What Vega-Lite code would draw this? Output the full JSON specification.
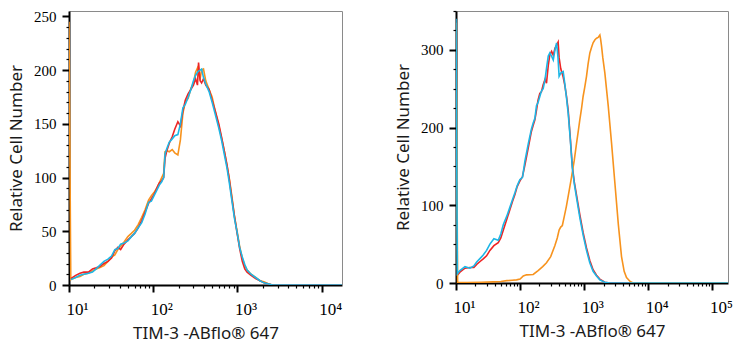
{
  "$schema": "https://vega.github.io/schema/vega-lite/v6.json",
  "padding": {"left": 7, "top": 4, "right": 5, "bottom": 5},
  "spacing": 52,
  "config": {
    "view": {"stroke": null},
    "axis": {
      "grid": false, "domainColor": "#000", "domainWidth": 2, "tickColor": "#000", "zindex": 1,
      "labelFont": "Liberation Serif", "labelFontSize": 15, "labelColor": "#000",
      "titleFont": "Noto Sans", "titleFontSize": 17, "titleFontWeight": "normal", "titleColor": "#1a1a1a",
      "labelOverlap": false, "labelFlush": false
    }
  },
  "datasets": {
    "L": [
      {"s":"C","x":10,"y":245},
      {"s":"A","x":10.5,"y":6},{"s":"A","x":12,"y":9},{"s":"A","x":13.5,"y":11},{"s":"A","x":15,"y":12},{"s":"A","x":17,"y":12},{"s":"A","x":19,"y":15},{"s":"A","x":21,"y":16},{"s":"A","x":23,"y":17},{"s":"A","x":26,"y":20},{"s":"A","x":29,"y":22},
      {"s":"A","x":32,"y":25},{"s":"A","x":35,"y":32},{"s":"A","x":38,"y":35},{"s":"A","x":41,"y":33},{"s":"A","x":45,"y":38},{"s":"A","x":50,"y":42},{"s":"A","x":55,"y":45},{"s":"A","x":60,"y":48},{"s":"A","x":66,"y":53},{"s":"A","x":73,"y":60},
      {"s":"A","x":80,"y":68},{"s":"A","x":88,"y":76},{"s":"A","x":95,"y":80},{"s":"A","x":102,"y":84},{"s":"A","x":110,"y":90},{"s":"A","x":118,"y":95},{"s":"A","x":126,"y":97},{"s":"A","x":133,"y":100},{"s":"A","x":138,"y":118},{"s":"A","x":145,"y":125},
      {"s":"A","x":155,"y":132},{"s":"A","x":168,"y":138},{"s":"A","x":180,"y":145},{"s":"A","x":196,"y":152},{"s":"A","x":210,"y":148},{"s":"A","x":225,"y":162},{"s":"A","x":240,"y":172},{"s":"A","x":260,"y":178},{"s":"A","x":280,"y":182},{"s":"A","x":300,"y":186},
      {"s":"A","x":318,"y":192},{"s":"A","x":335,"y":186},{"s":"A","x":345,"y":207},{"s":"A","x":360,"y":190},{"s":"A","x":375,"y":188},{"s":"A","x":395,"y":192},{"s":"A","x":420,"y":186},{"s":"A","x":460,"y":182},{"s":"A","x":500,"y":172},{"s":"A","x":540,"y":163},
      {"s":"A","x":600,"y":150},{"s":"A","x":650,"y":137},{"s":"A","x":700,"y":124},{"s":"A","x":750,"y":112},{"s":"A","x":800,"y":98},{"s":"A","x":860,"y":80},{"s":"A","x":920,"y":64},{"s":"A","x":990,"y":48},{"s":"A","x":1060,"y":34},{"s":"A","x":1140,"y":22},
      {"s":"A","x":1220,"y":15},{"s":"A","x":1300,"y":12},{"s":"A","x":1450,"y":9},{"s":"A","x":1640,"y":6},{"s":"A","x":1850,"y":4},{"s":"A","x":2060,"y":2},{"s":"A","x":2350,"y":1},{"s":"A","x":2600,"y":0},{"s":"A","x":17400,"y":0},
      {"s":"B","x":10.5,"y":5},{"s":"B","x":12,"y":7},{"s":"B","x":13.5,"y":9},{"s":"B","x":15,"y":10},{"s":"B","x":17,"y":11},{"s":"B","x":19,"y":12},{"s":"B","x":21,"y":15},{"s":"B","x":23,"y":18},{"s":"B","x":26,"y":22},{"s":"B","x":29,"y":24},
      {"s":"B","x":32,"y":27},{"s":"B","x":35,"y":33},{"s":"B","x":38,"y":34},{"s":"B","x":41,"y":38},{"s":"B","x":45,"y":39},{"s":"B","x":50,"y":41},{"s":"B","x":55,"y":45},{"s":"B","x":60,"y":48},{"s":"B","x":66,"y":53},{"s":"B","x":73,"y":58},
      {"s":"B","x":80,"y":66},{"s":"B","x":88,"y":77},{"s":"B","x":95,"y":78},{"s":"B","x":102,"y":83},{"s":"B","x":110,"y":88},{"s":"B","x":118,"y":93},{"s":"B","x":126,"y":96},{"s":"B","x":133,"y":100},{"s":"B","x":138,"y":122},{"s":"B","x":145,"y":127},
      {"s":"B","x":155,"y":133},{"s":"B","x":168,"y":136},{"s":"B","x":180,"y":139},{"s":"B","x":196,"y":140},{"s":"B","x":210,"y":150},{"s":"B","x":225,"y":165},{"s":"B","x":240,"y":168},{"s":"B","x":260,"y":175},{"s":"B","x":280,"y":182},{"s":"B","x":300,"y":190},
      {"s":"B","x":318,"y":195},{"s":"B","x":335,"y":198},{"s":"B","x":345,"y":199},{"s":"B","x":360,"y":200},{"s":"B","x":375,"y":201},{"s":"B","x":395,"y":193},{"s":"B","x":420,"y":187},{"s":"B","x":460,"y":180},{"s":"B","x":500,"y":170},{"s":"B","x":540,"y":160},
      {"s":"B","x":600,"y":146},{"s":"B","x":650,"y":134},{"s":"B","x":700,"y":121},{"s":"B","x":750,"y":109},{"s":"B","x":800,"y":95},{"s":"B","x":860,"y":78},{"s":"B","x":920,"y":62},{"s":"B","x":990,"y":49},{"s":"B","x":1060,"y":35},{"s":"B","x":1140,"y":26},
      {"s":"B","x":1220,"y":19},{"s":"B","x":1300,"y":14},{"s":"B","x":1450,"y":10},{"s":"B","x":1640,"y":7},{"s":"B","x":1850,"y":4},{"s":"B","x":2060,"y":2},{"s":"B","x":2350,"y":1},{"s":"B","x":2600,"y":0},{"s":"B","x":17400,"y":0},
      {"s":"C","x":10.5,"y":5},{"s":"C","x":12,"y":7},{"s":"C","x":13.5,"y":8},{"s":"C","x":15,"y":10},{"s":"C","x":17,"y":11},{"s":"C","x":19,"y":13},{"s":"C","x":21,"y":15},{"s":"C","x":23,"y":16},{"s":"C","x":26,"y":18},{"s":"C","x":29,"y":22},
      {"s":"C","x":32,"y":26},{"s":"C","x":35,"y":28},{"s":"C","x":38,"y":33},{"s":"C","x":41,"y":36},{"s":"C","x":45,"y":40},{"s":"C","x":50,"y":45},{"s":"C","x":55,"y":48},{"s":"C","x":60,"y":51},{"s":"C","x":66,"y":56},{"s":"C","x":73,"y":63},
      {"s":"C","x":80,"y":70},{"s":"C","x":88,"y":79},{"s":"C","x":95,"y":83},{"s":"C","x":102,"y":86},{"s":"C","x":110,"y":90},{"s":"C","x":118,"y":95},{"s":"C","x":126,"y":100},{"s":"C","x":133,"y":104},{"s":"C","x":138,"y":124},{"s":"C","x":145,"y":125},
      {"s":"C","x":155,"y":124},{"s":"C","x":168,"y":126},{"s":"C","x":180,"y":123},{"s":"C","x":196,"y":121},{"s":"C","x":210,"y":135},{"s":"C","x":225,"y":160},{"s":"C","x":240,"y":170},{"s":"C","x":260,"y":174},{"s":"C","x":280,"y":183},{"s":"C","x":300,"y":188},
      {"s":"C","x":318,"y":198},{"s":"C","x":335,"y":202},{"s":"C","x":345,"y":196},{"s":"C","x":360,"y":192},{"s":"C","x":375,"y":200},{"s":"C","x":395,"y":201},{"s":"C","x":420,"y":190},{"s":"C","x":460,"y":182},{"s":"C","x":500,"y":175},{"s":"C","x":540,"y":163},
      {"s":"C","x":600,"y":148},{"s":"C","x":650,"y":136},{"s":"C","x":700,"y":124},{"s":"C","x":750,"y":111},{"s":"C","x":800,"y":99},{"s":"C","x":860,"y":82},{"s":"C","x":920,"y":64},{"s":"C","x":990,"y":50},{"s":"C","x":1060,"y":36},{"s":"C","x":1140,"y":25},
      {"s":"C","x":1220,"y":18},{"s":"C","x":1300,"y":14},{"s":"C","x":1450,"y":10},{"s":"C","x":1640,"y":7},{"s":"C","x":1850,"y":4},{"s":"C","x":2060,"y":3},{"s":"C","x":2350,"y":1},{"s":"C","x":2600,"y":0},{"s":"C","x":17400,"y":0}
    ],
    "R": [
      {"s":"A","x":10.5,"y":10},{"s":"A","x":11.5,"y":14},{"s":"A","x":13.8,"y":19},{"s":"A","x":16.5,"y":20},{"s":"A","x":19,"y":20},{"s":"A","x":21,"y":24},{"s":"A","x":24,"y":28},{"s":"A","x":26.6,"y":31},{"s":"A","x":30,"y":35},{"s":"A","x":33.8,"y":42},
      {"s":"A","x":39,"y":48},{"s":"A","x":45.6,"y":52},{"s":"A","x":50,"y":58},{"s":"A","x":54.6,"y":68},{"s":"A","x":62,"y":82},{"s":"A","x":69,"y":94},{"s":"A","x":76,"y":105},{"s":"A","x":83,"y":114},{"s":"A","x":90,"y":124},{"s":"A","x":99,"y":131},
      {"s":"A","x":109,"y":137},{"s":"A","x":119,"y":152},{"s":"A","x":134,"y":174},{"s":"A","x":150,"y":195},{"s":"A","x":160,"y":203},{"s":"A","x":170,"y":210},{"s":"A","x":180,"y":222},{"s":"A","x":190,"y":235},{"s":"A","x":203,"y":244},{"s":"A","x":215,"y":246},
      {"s":"A","x":229,"y":255},{"s":"A","x":245,"y":262},{"s":"A","x":258,"y":257},{"s":"A","x":275,"y":280},{"s":"A","x":291,"y":294},{"s":"A","x":310,"y":298},{"s":"A","x":329,"y":293},{"s":"A","x":350,"y":302},{"s":"A","x":371,"y":306},{"s":"A","x":392,"y":310},
      {"s":"A","x":406,"y":290},{"s":"A","x":430,"y":276},{"s":"A","x":470,"y":265},{"s":"A","x":497,"y":255},{"s":"A","x":530,"y":240},{"s":"A","x":563,"y":222},{"s":"A","x":600,"y":192},{"s":"A","x":653,"y":150},{"s":"A","x":700,"y":130},{"s":"A","x":759,"y":113},
      {"s":"A","x":854,"y":88},{"s":"A","x":961,"y":65},{"s":"A","x":1086,"y":45},{"s":"A","x":1222,"y":29},{"s":"A","x":1376,"y":17},{"s":"A","x":1555,"y":10},{"s":"A","x":1750,"y":5},{"s":"A","x":2094,"y":1},{"s":"A","x":2506,"y":0},{"s":"A","x":175000,"y":0},
      {"s":"C","x":10,"y":335},{"s":"C","x":10.6,"y":1},{"s":"C","x":15,"y":0.5},{"s":"C","x":25,"y":1},{"s":"C","x":38,"y":1.5},{"s":"C","x":50,"y":2},{"s":"C","x":62,"y":3},{"s":"C","x":75,"y":3.5},{"s":"C","x":88,"y":4},
      {"s":"C","x":100,"y":5},{"s":"C","x":112,"y":9},{"s":"C","x":126,"y":10.5},{"s":"C","x":160,"y":11},{"s":"C","x":191,"y":16},{"s":"C","x":225,"y":21},{"s":"C","x":258,"y":26},{"s":"C","x":300,"y":34},{"s":"C","x":348,"y":48},{"s":"C","x":380,"y":58},
      {"s":"C","x":406,"y":68},{"s":"C","x":430,"y":72},{"s":"C","x":456,"y":74},{"s":"C","x":490,"y":86},{"s":"C","x":528,"y":99},{"s":"C","x":580,"y":118},{"s":"C","x":633,"y":136},{"s":"C","x":700,"y":158},{"s":"C","x":760,"y":180},{"s":"C","x":810,"y":196},
      {"s":"C","x":854,"y":210},{"s":"C","x":910,"y":225},{"s":"C","x":961,"y":240},{"s":"C","x":1020,"y":252},{"s":"C","x":1086,"y":266},{"s":"C","x":1150,"y":282},{"s":"C","x":1225,"y":296},{"s":"C","x":1300,"y":303},{"s":"C","x":1376,"y":309},{"s":"C","x":1470,"y":313},
      {"s":"C","x":1560,"y":315},{"s":"C","x":1650,"y":316},{"s":"C","x":1754,"y":319},{"s":"C","x":1800,"y":314},{"s":"C","x":1862,"y":305},{"s":"C","x":1950,"y":290},{"s":"C","x":2100,"y":270},{"s":"C","x":2370,"y":228},{"s":"C","x":2670,"y":180},{"s":"C","x":3000,"y":130},
      {"s":"C","x":3400,"y":76},{"s":"C","x":3820,"y":34},{"s":"C","x":4200,"y":15},{"s":"C","x":4570,"y":7},{"s":"C","x":5200,"y":2},{"s":"C","x":5800,"y":0},{"s":"C","x":175000,"y":0},
      {"s":"B","x":10,"y":340},{"s":"B","x":10.5,"y":12},{"s":"B","x":11.5,"y":16},{"s":"B","x":13.8,"y":21},{"s":"B","x":16.5,"y":19},{"s":"B","x":19,"y":22},{"s":"B","x":21,"y":27},{"s":"B","x":24,"y":32},{"s":"B","x":26.6,"y":36},
      {"s":"B","x":30,"y":42},{"s":"B","x":33.8,"y":50},{"s":"B","x":39,"y":57},{"s":"B","x":45.6,"y":55},{"s":"B","x":50,"y":63},{"s":"B","x":54.6,"y":75},{"s":"B","x":62,"y":86},{"s":"B","x":69,"y":97},{"s":"B","x":76,"y":107},{"s":"B","x":83,"y":116},
      {"s":"B","x":90,"y":125},{"s":"B","x":99,"y":133},{"s":"B","x":109,"y":136},{"s":"B","x":119,"y":157},{"s":"B","x":134,"y":179},{"s":"B","x":150,"y":198},{"s":"B","x":160,"y":206},{"s":"B","x":170,"y":212},{"s":"B","x":180,"y":228},{"s":"B","x":190,"y":232},
      {"s":"B","x":203,"y":240},{"s":"B","x":215,"y":247},{"s":"B","x":229,"y":250},{"s":"B","x":245,"y":262},{"s":"B","x":260,"y":278},{"s":"B","x":275,"y":292},{"s":"B","x":291,"y":296},{"s":"B","x":310,"y":292},{"s":"B","x":329,"y":287},{"s":"B","x":350,"y":300},
      {"s":"B","x":371,"y":309},{"s":"B","x":390,"y":290},{"s":"B","x":406,"y":266},{"s":"B","x":430,"y":270},{"s":"B","x":470,"y":272},{"s":"B","x":497,"y":257},{"s":"B","x":530,"y":238},{"s":"B","x":563,"y":218},{"s":"B","x":600,"y":190},{"s":"B","x":653,"y":148},
      {"s":"B","x":700,"y":128},{"s":"B","x":759,"y":110},{"s":"B","x":854,"y":84},{"s":"B","x":961,"y":62},{"s":"B","x":1086,"y":42},{"s":"B","x":1222,"y":26},{"s":"B","x":1376,"y":15},{"s":"B","x":1555,"y":9},{"s":"B","x":1750,"y":4},{"s":"B","x":2094,"y":1},
      {"s":"B","x":2506,"y":0},{"s":"B","x":175000,"y":0}
    ]
  },
  "hconcat": [
    {
      "width": 273, "height": 274,
      "data": {"name": "L"},
      "resolve": {"axis": {"x": "independent", "y": "independent"}},
      "layer": [
        {
          "mark": {"type": "line", "strokeWidth": 1.6, "clip": true},
          "encoding": {
            "x": {"field": "x", "type": "quantitative",
              "scale": {"type": "log", "domain": [10, 17400], "nice": false},
              "axis": {"title": "TIM-3 -ABflo® 647", "orient": "bottom",
                "values": [10,20,30,40,50,60,70,80,90,100,200,300,400,500,600,700,800,900,1000,2000,3000,4000,5000,6000,7000,8000,9000,10000],
                "labelExpr": "abs(log(datum.value)/LN10 - round(log(datum.value)/LN10)) < 0.001 ? '10' + ['⁰','¹','²','³','⁴','⁵'][round(log(datum.value)/LN10)] : ''",
                "tickSize": {"condition": {"test": "abs(log(datum.value)/LN10 - round(log(datum.value)/LN10)) < 0.001", "value": 7}, "value": 3},
                "tickWidth": {"condition": {"test": "abs(log(datum.value)/LN10 - round(log(datum.value)/LN10)) < 0.001", "value": 2}, "value": 1.2},
                "labelFontSize": 17, "labelAlign": "left", "labelOffset": -3, "labelPadding": 9, "titlePadding": 8}},
            "y": {"field": "y", "type": "quantitative",
              "scale": {"domain": [0, 255], "nice": false, "zero": false},
              "axis": {"title": "Relative Cell Number", "orient": "left",
                "values": [0,10,20,30,40,50,60,70,80,90,100,110,120,130,140,150,160,170,180,190,200,210,220,230,240,250],
                "labelExpr": "datum.value % 50 === 0 ? datum.label : ''",
                "tickSize": {"condition": {"test": "datum.value % 50 === 0", "value": 7}, "value": 3},
                "tickWidth": {"condition": {"test": "datum.value % 50 === 0", "value": 2}, "value": 1.2},
                "labelPadding": 6, "titlePadding": 8}},
            "color": {"field": "s", "type": "nominal", "legend": null,
              "scale": {"domain": ["A", "B", "C"], "range": ["#EE2424", "#1DB6E6", "#F7931E"]}}
          }
        },
        {
          "mark": {"type": "line", "opacity": 0},
          "encoding": {
            "x": {"field": "x", "type": "quantitative",
              "axis": {"orient": "top", "title": null, "labels": false, "ticks": false, "domainColor": "#8a8a8a", "domainWidth": 1}},
            "y": {"field": "y", "type": "quantitative",
              "axis": {"orient": "right", "title": null, "labels": false, "ticks": false, "domainColor": "#8a8a8a", "domainWidth": 1}}
          }
        }
      ]
    },
    {
      "width": 272, "height": 272,
      "data": {"name": "R"},
      "resolve": {"axis": {"x": "independent", "y": "independent"}},
      "layer": [
        {
          "mark": {"type": "line", "strokeWidth": 1.6, "clip": true},
          "encoding": {
            "x": {"field": "x", "type": "quantitative",
              "scale": {"type": "log", "domain": [10, 175000], "nice": false},
              "axis": {"title": "TIM-3 -ABflo® 647", "orient": "bottom",
                "values": [10,20,30,40,50,60,70,80,90,100,200,300,400,500,600,700,800,900,1000,2000,3000,4000,5000,6000,7000,8000,9000,10000,20000,30000,40000,50000,60000,70000,80000,90000,100000],
                "labelExpr": "abs(log(datum.value)/LN10 - round(log(datum.value)/LN10)) < 0.001 ? '10' + ['⁰','¹','²','³','⁴','⁵'][round(log(datum.value)/LN10)] : ''",
                "tickSize": {"condition": {"test": "abs(log(datum.value)/LN10 - round(log(datum.value)/LN10)) < 0.001", "value": 7}, "value": 3},
                "tickWidth": {"condition": {"test": "abs(log(datum.value)/LN10 - round(log(datum.value)/LN10)) < 0.001", "value": 2}, "value": 1.2},
                "labelFontSize": 17, "labelAlign": "left", "labelOffset": -3, "labelPadding": 9, "titlePadding": 8}},
            "y": {"field": "y", "type": "quantitative",
              "scale": {"domain": [0, 350], "nice": false, "zero": false},
              "axis": {"title": "Relative Cell Number", "orient": "left",
                "values": [0,25,50,75,100,125,150,175,200,225,250,275,300,325,350],
                "labelExpr": "datum.value % 100 === 0 ? datum.label : ''",
                "tickSize": {"condition": {"test": "datum.value % 100 === 0", "value": 7}, "value": 3},
                "tickWidth": {"condition": {"test": "datum.value % 100 === 0", "value": 2}, "value": 1.2},
                "labelPadding": 6, "titlePadding": 8}},
            "color": {"field": "s", "type": "nominal", "legend": null,
              "scale": {"domain": ["A", "B", "C"], "range": ["#EE2424", "#1DB6E6", "#F7931E"]}}
          }
        },
        {
          "mark": {"type": "line", "opacity": 0},
          "encoding": {
            "x": {"field": "x", "type": "quantitative",
              "axis": {"orient": "top", "title": null, "labels": false, "ticks": false, "domainColor": "#8a8a8a", "domainWidth": 1}},
            "y": {"field": "y", "type": "quantitative",
              "axis": {"orient": "right", "title": null, "labels": false, "ticks": false, "domainColor": "#8a8a8a", "domainWidth": 1}}
          }
        }
      ]
    }
  ]
}
